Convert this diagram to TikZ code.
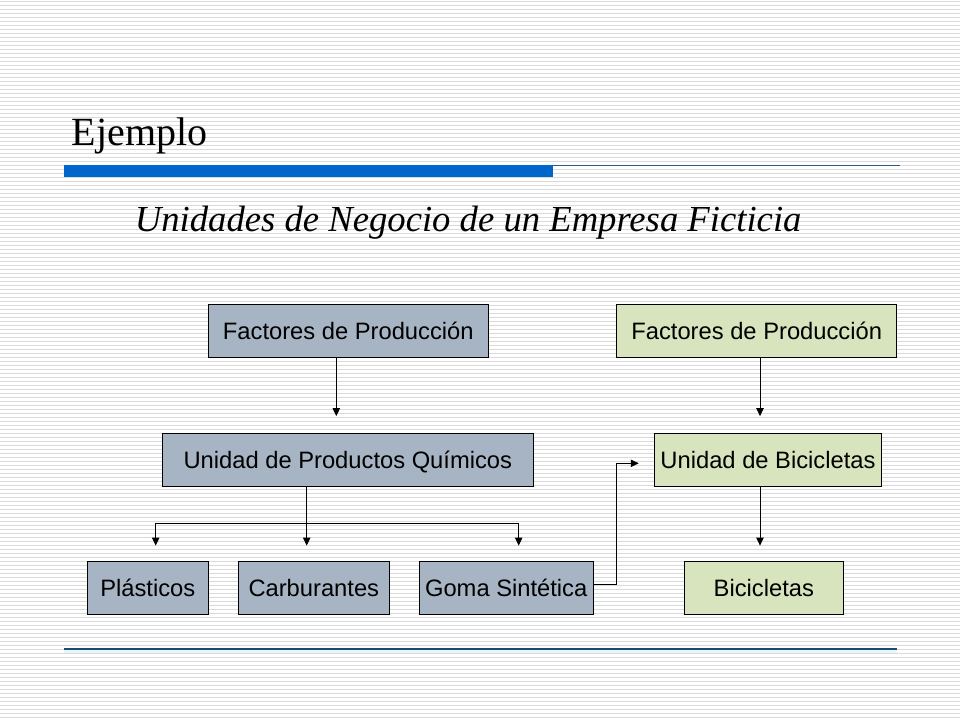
\documentclass[tikz,border=0pt]{standalone}
\usepackage{fontspec}
\setmainfont{Liberation Serif}
\newfontfamily\boxfont{Liberation Sans}
\usetikzlibrary{arrows.meta}
\definecolor{stripe}{HTML}{DADADA}
\definecolor{barblue}{HTML}{0066CC}
\definecolor{lineblue}{HTML}{2A5C8F}
\definecolor{darkline}{HTML}{1F4A70}
\definecolor{glow}{HTML}{E6F7FB}
\definecolor{grayblue}{HTML}{A6B4C4}
\definecolor{lightgreen}{HTML}{D7E4BD}
\tikzset{
  unitbox/.style={draw=black, line width=0.75pt, inner sep=0pt, minimum height=39.75pt,
    text height=12.75pt, text depth=0pt,
    font=\boxfont\fontsize{17.8pt}{20pt}\selectfont, text=black},
  chem/.style={unitbox, fill=grayblue},
  bike/.style={unitbox, fill=lightgreen},
  arr/.style={line width=0.75pt, -{Triangle[length=6pt,width=5.5pt]}},
  conn/.style={line width=0.75pt}
}
\begin{document}
\begin{tikzpicture}[x=0.75pt,y=-0.75pt]
\useasboundingbox (0,0) rectangle (960,720);
\fill[white] (0,0) rectangle (960,720);
\foreach \k in {0,...,179} {
  \draw[stripe, line width=0.75pt] (0,{1.5+4*\k}) -- (960,{1.5+4*\k});
}
% title and header rule
\node[anchor=base west, inner sep=0pt, font=\fontsize{30pt}{34pt}\selectfont] (title) at (71.5,146) {Ejemplo};
\fill[barblue] (64,165) rectangle (553,177);
\draw[lineblue, line width=1pt] (553,165.5) -- (900,165.5);
\node[anchor=base west, inner sep=0pt, font=\itshape\fontsize{27.5pt}{32pt}\selectfont] (sub) at (134.6,231.6) {Unidades de Negocio de un Empresa Ficticia};
% bottom rule
\fill[glow] (64,649.5) rectangle (897,653);
\draw[darkline, line width=1.1pt] (64,649) -- (897,649);
% boxes
\node[chem, minimum width=210pt] (fp1) at (348.3,330.8) {Factores de Producción};
\node[chem, minimum width=278.25pt] (upq) at (347.8,459.7) {Unidad de Productos Químicos};
\node[chem, minimum width=90.75pt] (pla) at (147.8,587.7) {Plásticos};
\node[chem, minimum width=113.25pt] (car) at (313.8,587.7) {Carburantes};
\node[chem, minimum width=130.3pt] (gom) at (506.2,587.7) {Goma Sintética};
\node[bike, minimum width=210pt] (fp2) at (756.7,330.8) {Factores de Producción};
\node[bike, minimum width=170.5pt] (ub) at (768,459.7) {Unidad de Bicicletas};
\node[bike, minimum width=119.25pt] (bic) at (763.8,587.7) {Bicicletas};
% helper coordinates
\coordinate (xa) at (336.3,0);
\coordinate (xb) at (306.7,0);
\coordinate (xl) at (155.7,0);
\coordinate (xr) at (518.7,0);
\coordinate (xg) at (760,0);
\coordinate (hy) at (0,523.3);
\coordinate (gy) at (0,584.3);
\coordinate (ey) at (0,463.3);
\coordinate (turn) at (616.7,0);
% connectors
\draw[arr, shorten >=12.4pt] (fp1.south -| xa) -- (upq.north -| xa);
\draw[arr, shorten >=11.3pt] (upq.south -| xb) -- (car.north -| xb);
\draw[conn] (hy -| xl) -- (hy -| xr);
\draw[arr, shorten >=11.3pt] (hy -| xl) -- (pla.north -| xl);
\draw[arr, shorten >=11.3pt] (hy -| xr) -- (gom.north -| xr);
\draw[arr, shorten >=12.4pt] (fp2.south -| xg) -- (ub.north -| xg);
\draw[arr, shorten >=11.3pt] (ub.south -| xg) -- (bic.north -| xg);
\draw[arr, shorten >=11.3pt] (gom.east |- gy) -- (turn |- gy) -- (turn |- ey) -- (ub.west |- ey);
\end{tikzpicture}
\end{document}
